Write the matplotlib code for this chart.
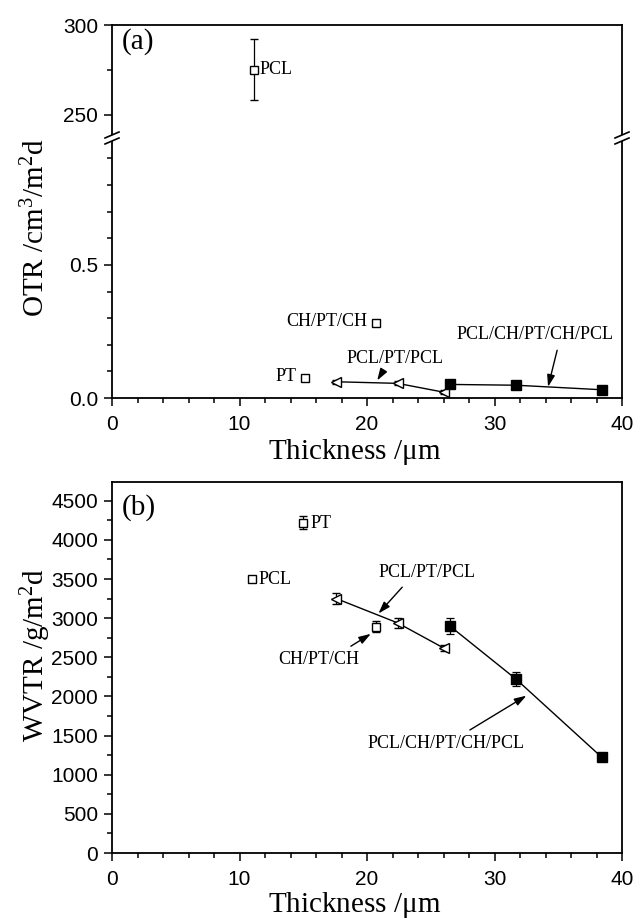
import matplotlib
matplotlib.use("Agg")
import matplotlib.pyplot as plt
from matplotlib.lines import Line2D
from matplotlib.patches import Rectangle
from matplotlib.ticker import MultipleLocator

plt.rcParams['font.family'] = ['Liberation Sans', 'DejaVu Sans']
plt.rcParams['mathtext.fontset'] = 'custom'
plt.rcParams['mathtext.rm'] = 'Liberation Serif'
plt.rcParams['mathtext.it'] = 'Liberation Serif:italic'

# ---------------- data ----------------
# (a) OTR
otr_pcl_x, otr_pcl_y, otr_pcl_err = [11.1], [275.0], [17.0]
otr_pt_x, otr_pt_y, otr_pt_err = [15.1], [0.077], [0.006]
otr_chptch_x, otr_chptch_y, otr_chptch_err = [20.7], [0.283], [0.006]
otr_tri_x = [17.6, 22.4, 26.0]
otr_tri_y = [0.061, 0.055, 0.022]
otr_tri_err = [0.008, 0.008, 0.008]
otr_sq_x = [26.5, 31.7, 38.4]
otr_sq_y = [0.051, 0.048, 0.031]
otr_sq_err = [0.004, 0.004, 0.004]

# (b) WVTR
wv_pcl_x, wv_pcl_y, wv_pcl_err = [11.0], [3500.0], [20.0]
wv_pt_x, wv_pt_y, wv_pt_err = [15.0], [4220.0], [80.0]
wv_chptch_x, wv_chptch_y, wv_chptch_err = [20.7], [2890.0], [70.0]
wv_tri_x = [17.6, 22.4, 26.0]
wv_tri_y = [3250.0, 2940.0, 2620.0]
wv_tri_err = [70.0, 60.0, 40.0]
wv_sq_x = [26.5, 31.7, 38.4]
wv_sq_y = [2900.0, 2220.0, 1225.0]
wv_sq_err = [100.0, 90.0, 30.0]

W, H = 636, 921
fig = plt.figure(figsize=(W / 100, H / 100), dpi=100)

def rect(l, t, r, b):
    return [l / W, 1 - b / H, (r - l) / W, (b - t) / H]

L, R = 112, 622
BRK = 138
ax_hi = fig.add_axes(rect(L, 25, R, BRK))
ax_lo = fig.add_axes(rect(L, BRK, R, 398))
ax_b = fig.add_axes(rect(L, 482, R, 853))

serif = ['Liberation Serif', 'DejaVu Serif']
TICK_FS = 15
LAB_FS = 21
ANN_FS = 13

def style(ax):
    for s in ax.spines.values():
        s.set_linewidth(1.3)
    ax.tick_params(which='both', direction='out', top=False, right=False,
                   labelsize=TICK_FS, width=1.1, pad=4)
    ax.tick_params(which='major', length=6)
    ax.tick_params(which='minor', length=3.5)
    ax.tick_params(axis='x', which='both', pad=6)

for ax in (ax_hi, ax_lo, ax_b):
    style(ax)
    ax.set_xlim(0, 40)
    ax.xaxis.set_major_locator(MultipleLocator(10))
    ax.xaxis.set_minor_locator(MultipleLocator(2))

ax_hi.set_ylim(237, 300)
ax_hi.yaxis.set_major_locator(MultipleLocator(50))
ax_hi.yaxis.set_minor_locator(MultipleLocator(25))
ax_hi.spines['bottom'].set_visible(False)
ax_hi.tick_params(axis='x', which='both', bottom=False, labelbottom=False)

ax_lo.set_ylim(0, 0.977)
ax_lo.yaxis.set_major_locator(MultipleLocator(0.5))
ax_lo.yaxis.set_minor_locator(MultipleLocator(0.1))
ax_lo.yaxis.set_major_formatter(plt.FuncFormatter(lambda v, p: f"{v:.1f}"))
ax_lo.spines['top'].set_visible(False)

ax_b.set_ylim(0, 4740)
ax_b.yaxis.set_major_locator(MultipleLocator(500))
ax_b.yaxis.set_minor_locator(MultipleLocator(250))

open_kw = dict(mfc='white', mec='black', mew=1.0, color='black',
               ecolor='black', elinewidth=0.9, capsize=3, capthick=0.9)
fill_kw = dict(mfc='black', mec='black', color='black', ecolor='black',
               elinewidth=0.9, capsize=3, capthick=0.9)
arrow = dict(arrowstyle='-|>,head_length=0.55,head_width=0.18',
             color='k', lw=1.0, shrinkB=0)

# ---------- (a) ----------
ax_hi.errorbar(otr_pcl_x, otr_pcl_y, yerr=otr_pcl_err, fmt='s', ms=6, **open_kw)
ax_lo.errorbar(otr_pt_x, otr_pt_y, yerr=otr_pt_err, fmt='s', ms=6, **open_kw)
ax_lo.plot(otr_pt_x, otr_pt_y, marker='_', ms=6, color='k', mew=0.9)
ax_lo.errorbar(otr_chptch_x, otr_chptch_y, yerr=otr_chptch_err, fmt='s', ms=6, **open_kw)
ax_lo.plot(otr_chptch_x, otr_chptch_y, marker='_', ms=6, color='k', mew=0.9)
ax_lo.plot(otr_tri_x, otr_tri_y, color='black', lw=1.0)
ax_lo.errorbar(otr_tri_x, otr_tri_y, yerr=otr_tri_err, fmt='<', ms=6.5, **open_kw)
ax_lo.plot(otr_sq_x, otr_sq_y, color='black', lw=1.0)
ax_lo.errorbar(otr_sq_x, otr_sq_y, yerr=otr_sq_err, fmt='s', ms=7, **fill_kw)

ax_hi.text(0.8, 291, '(a)', family=serif, fontsize=21, va='center', ha='left')
ax_hi.text(11.6, 275, 'PCL', family=serif, fontsize=ANN_FS, va='center', ha='left')
ax_lo.text(14.5, 0.079, 'PT', family=serif, fontsize=ANN_FS, va='center', ha='right')
ax_lo.text(20.0, 0.286, 'CH/PT/CH', family=serif, fontsize=ANN_FS, va='center', ha='right')
ax_lo.annotate('PCL/PT/PCL', xy=(20.8, 0.066), xytext=(22.2, 0.147),
               family=serif, fontsize=ANN_FS, ha='center', va='center',
               arrowprops=dict(arrow, shrinkA=2, relpos=(0.4, 0.0)))
ax_lo.annotate('PCL/CH/PT/CH/PCL', xy=(34.2, 0.042), xytext=(33.2, 0.237),
               family=serif, fontsize=ANN_FS, ha='center', va='center',
               arrowprops=dict(arrow, shrinkA=3, relpos=(0.65, 0.0)))

# ---------- (b) ----------
ax_b.errorbar(wv_pcl_x, wv_pcl_y, yerr=wv_pcl_err, fmt='s', ms=6, **open_kw)
ax_b.errorbar(wv_pt_x, wv_pt_y, yerr=wv_pt_err, fmt='s', ms=6, **open_kw)
ax_b.errorbar(wv_chptch_x, wv_chptch_y, yerr=wv_chptch_err, fmt='s', ms=6, **open_kw)
ax_b.plot(wv_tri_x, wv_tri_y, color='black', lw=1.0)
ax_b.errorbar(wv_tri_x, wv_tri_y, yerr=wv_tri_err, fmt='<', ms=6.5, **open_kw)
ax_b.plot(wv_sq_x, wv_sq_y, color='black', lw=1.0)
ax_b.errorbar(wv_sq_x, wv_sq_y, yerr=wv_sq_err, fmt='s', ms=7, **fill_kw)

ax_b.text(0.8, 4420, '(b)', family=serif, fontsize=21, va='center', ha='left')
ax_b.text(15.6, 4210, 'PT', family=serif, fontsize=ANN_FS, va='center', ha='left')
ax_b.text(11.5, 3500, 'PCL', family=serif, fontsize=ANN_FS, va='center', ha='left')
ax_b.annotate('PCL/PT/PCL', xy=(20.9, 3060), xytext=(24.7, 3580),
              family=serif, fontsize=ANN_FS, ha='center', va='center',
              arrowprops=dict(arrow, shrinkA=3, relpos=(0.3, 0.0)))
ax_b.annotate('CH/PT/CH', xy=(20.3, 2800), xytext=(16.2, 2470),
              family=serif, fontsize=ANN_FS, ha='center', va='center',
              arrowprops=dict(arrow, shrinkA=3, relpos=(0.8, 1.0)))
ax_b.annotate('PCL/CH/PT/CH/PCL', xy=(32.5, 2010), xytext=(26.2, 1400),
              family=serif, fontsize=ANN_FS, ha='center', va='center',
              arrowprops=dict(arrow, shrinkA=3, relpos=(0.6, 1.0)))

# axis labels
fig.text(355 / W, 1 - 452 / H, r'Thickness /$\mathrm{\mu}$m', family=serif,
         fontsize=LAB_FS, ha='center', va='center')
fig.text(355 / W, 1 - 905 / H, r'Thickness /$\mathrm{\mu}$m', family=serif,
         fontsize=LAB_FS, ha='center', va='center')
fig.text(36 / W, 1 - 228 / H, r'OTR /cm$^{3}$/m$^{2}$d', family=serif,
         fontsize=LAB_FS, ha='center', va='center', rotation=90)
fig.text(36 / W, 1 - 655 / H, r'WVTR /g/m$^{2}$d', family=serif,
         fontsize=LAB_FS, ha='center', va='center', rotation=90)

# axis break marks
def fp(x, y):
    return (x / W, 1 - y / H)

for xs in (L, R):
    fig.patches.append(Rectangle(fp(xs - 3, BRK + 3), 6 / W, 6 / H,
                                 transform=fig.transFigure, facecolor='white',
                                 edgecolor='none', zorder=5))
    for dy in (-3, 3):
        (x0, y0) = fp(xs - 7, BRK + dy + 3)
        (x1, y1) = fp(xs + 7, BRK + dy - 3)
        fig.lines.append(Line2D([x0, x1], [y0, y1], transform=fig.transFigure,
                                color='black', lw=1.2, zorder=6))

fig.savefig('out.png', dpi=100)
